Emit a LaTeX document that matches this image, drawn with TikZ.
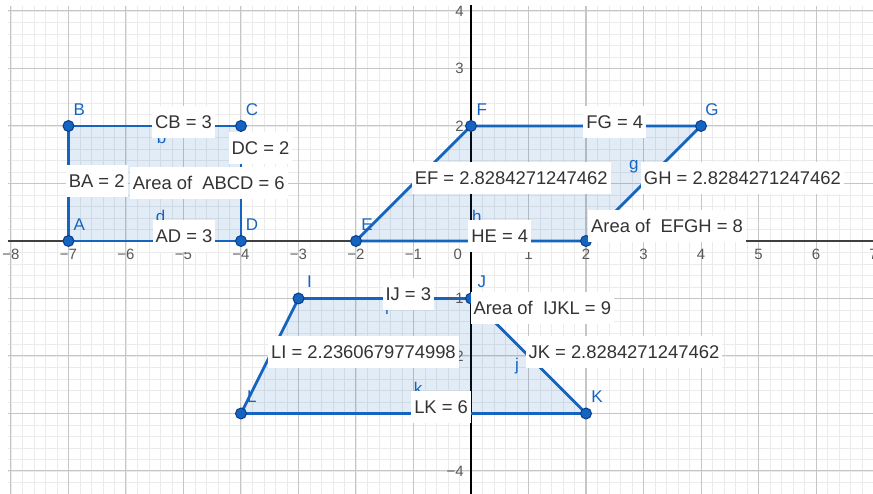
\documentclass[tikz,border=0pt]{standalone}
\usepackage{fontspec}
\setmainfont{Liberation Sans}
\usepackage{xcolor}
\usepackage{tikz}
\usetikzlibrary{calc,backgrounds}
\definecolor{ggblue}{HTML}{1565C0}
\definecolor{ggdark}{HTML}{0B3D8C}
\definecolor{gridmajor}{HTML}{C6C6C6}
\definecolor{gridminor}{HTML}{EBEBEB}
\definecolor{labelgray}{HTML}{333333}

\begin{document}
\begin{tikzpicture}[
    ggpoint/.style={circle, fill=ggblue, draw=ggdark, line width=0.5pt, minimum size=0.19cm, inner sep=0pt},
    ptlabel/.style={text=ggblue, font=\fontsize{8.4}{10}\selectfont, inner sep=0pt},
    seglabel/.style={text=ggblue, font=\fontsize{8.4}{10}\selectfont, inner sep=0pt},
    valbox/.style={fill=white, text=labelgray, font=\fontsize{9.1}{11}\selectfont, inner xsep=1.5pt, inner ysep=0pt, minimum height=0.56cm, text height=7pt, text depth=0.5pt},
    ticklabel/.style={text=black!65, font=\fontsize{7.4}{9}\selectfont, inner sep=0pt},
    polyfill/.style={fill=ggblue, fill opacity=0.12},
    polyedge/.style={draw=ggblue, line width=1.4pt, line join=round}
  ]
    \useasboundingbox (-8.191,-4.400) rectangle (6.991,4.191);

    \node[ggpoint] (A) at (-7,0) {};
    \node[ggpoint] (B) at (-7,2) {};
    \node[ggpoint] (C) at (-4,2) {};
    \node[ggpoint] (D) at (-4,0) {};
    \node[ggpoint] (E) at (-2,0) {};
    \node[ggpoint] (F) at (0,2) {};
    \node[ggpoint] (G) at (4,2) {};
    \node[ggpoint] (H) at (2,0) {};
    \node[ggpoint] (I) at (-3,-1) {};
    \node[ggpoint] (J) at (0,-1) {};
    \node[ggpoint] (K) at (2,-3) {};
    \node[ggpoint] (L) at (-4,-3) {};

    \begin{scope}[on background layer]
      \fill[white] (-8.191,-4.400) rectangle (6.991,4.191);
      \draw[gridminor, line width=0.4pt, step=0.2] (-8.06,-4.40) grid (6.991,4.09);
      \draw[gridmajor, line width=0.5pt, step=1] (-8.06,-4.40) grid (6.991,4.09);
      \draw[black!75, line width=0.7pt] (-8.06,0) -- (6.991,0);
      \draw[black, line width=0.9pt] (0,-4.40) -- (0,4.10);
      \fill[polyfill] (A.center) -- (B.center) -- (C.center) -- (D.center) -- cycle;
      \fill[polyfill] (E.center) -- (F.center) -- (G.center) -- (H.center) -- cycle;
      \fill[polyfill] (I.center) -- (J.center) -- (K.center) -- (L.center) -- cycle;
      \draw[polyedge] (A.center) -- (B.center) -- (C.center) -- (D.center) -- cycle;
      \draw[polyedge] (E.center) -- (F.center) -- (G.center) -- (H.center) -- cycle;
      \draw[polyedge] (I.center) -- (J.center) -- (K.center) -- (L.center) -- cycle;
    \end{scope}

    \foreach \x/\t in {-8/−8,-7/−7,-6/−6,-5/−5,-4/−4,-3/−3,-2/−2,-1/−1,1/1,2/2,3/3,4/4,5/5,6/6,7/7}
      \node[ticklabel] (xt\x) at (\x,-0.23) {\t};
    \foreach \y/\t in {4/4,3/3,2/2,1/1,-1/−1,-2/−2,-3/−3,-4/−4}
      \node[ticklabel, anchor=east] (yt\y) at (-0.12,\y) {\t};
    \node[ticklabel] (origin) at (-0.23,-0.23) {0};

    \foreach \p in {A,...,L}
      \node[ptlabel] (lab\p) at ($(\p)+(0.19,0.29)$) {\p};

    \node[seglabel] (sb) at (-5.38,1.80) {b};
    \node[seglabel] (sd) at (-5.40,0.43) {d};
    \node[seglabel] (sh) at (0.10,0.42) {h};
    \node[seglabel] (sg) at (2.83,1.30) {g};
    \node[seglabel] (si) at (-1.46,-1.17) {i};
    \node[seglabel] (sj) at (0.80,-2.17) {j};
    \node[seglabel] (sk) at (-0.92,-2.57) {k};

    \node[valbox] (vCB) at (-5.00,2.07) {CB = 3};
    \node[valbox] (vDC) at (-3.66,1.62) {DC = 2};
    \node[valbox] (vBA) at (-6.51,1.04) {BA = 2};
    \node[valbox] (vABCD) at (-4.56,1.01) {Area of~ ABCD = 6};
    \node[valbox] (vAD) at (-4.99,0.09) {AD = 3};
    \node[valbox] (vFG) at (2.50,2.07) {FG = 4};
    \node[valbox] (vEF) at (0.70,1.10) {EF = 2.8284271247462};
    \node[valbox] (vGH) at (4.72,1.10) {GH = 2.8284271247462};
    \node[valbox] (vHE) at (0.50,0.09) {HE = 4};
    \node[valbox] (vEFGH) at (3.41,0.26) {Area of~ EFGH = 8};
    \node[valbox] (vIJ) at (-1.09,-0.92) {IJ = 3};
    \node[valbox] (vIJKL) at (1.24,-1.17) {Area of~ IJKL = 9};
    \node[valbox] (vLI) at (-1.87,-1.93) {LI = 2.2360679774998};
    \node[valbox] (vJK) at (2.66,-1.93) {JK = 2.8284271247462};
    \node[valbox] (vLK) at (-0.52,-2.89) {LK = 6};
  \end{tikzpicture}
\end{document}
